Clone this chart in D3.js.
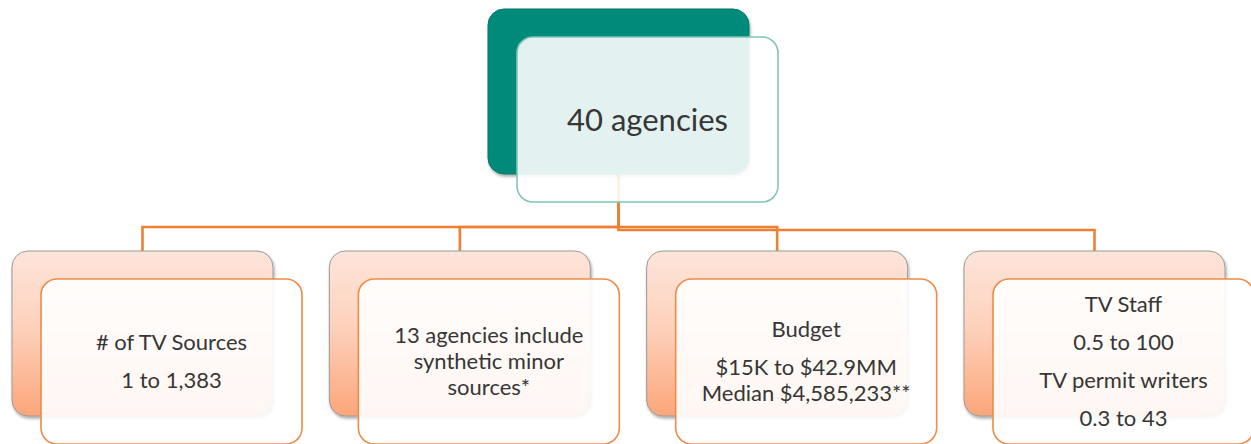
<html>
<head>
    <meta charset="utf-8">
    <title>Agencies overview</title>
    <script src="https://d3js.org/d3.v7.min.js" charset="utf-8"></script>
    <style>
        body { margin: 0; background: #fff; }
        text { font-family: Lato, "Open Sans", sans-serif; fill: #363636; }
    </style>
</head>
<body>
    <div id="chart"></div>
    <script>
        // data
        const rootParagraphs = [["40 agencies"]];
        const childKeys = ["sources", "synthetic", "budget", "staff"];
        const childParagraphs = [
            [["# of TV Sources"], ["1 to 1,383"]],
            [["13 agencies include", "synthetic minor", "sources*"]],
            [["Budget"], ["$15K to $42.9MM", "Median $4,585,233**"]],
            [["TV Staff"], ["0.5 to 100"], ["TV permit writers"], ["0.3 to 43"]]
        ];

        let width = 1251,
            height = 444,
            boxW = 261,
            boxH = 165,
            offX = 29,
            offY = 28,
            radius = 16,
            rootX = 618.5,
            rootY = 9,
            childY = 251,
            lineH = 26,
            paraGap = 12;

        const x = d3.scalePoint()
            .domain(childKeys)
            .range([142.5, 1094.5]);

        const svg = d3.select("#chart")
            .append("svg")
            .attr("width", width)
            .attr("height", height);

        const defs = svg.append("defs");

        const grad = defs.append("linearGradient")
            .attr("id", "peach")
            .attr("x1", 0).attr("y1", 0).attr("x2", 0).attr("y2", 1);
        grad.append("stop").attr("offset", "0%").attr("stop-color", "#fde5da");
        grad.append("stop").attr("offset", "45%").attr("stop-color", "#fdd2bd");
        grad.append("stop").attr("offset", "100%").attr("stop-color", "#fca67a");

        const shadow = defs.append("filter")
            .attr("id", "shadow")
            .attr("x", "-10%").attr("y", "-10%")
            .attr("width", "125%").attr("height", "125%");
        shadow.append("feDropShadow")
            .attr("dx", 1).attr("dy", 2)
            .attr("stdDeviation", 1.5)
            .attr("flood-color", "#000")
            .attr("flood-opacity", 0.35);

        // connectors (drawn first, root front box sits over them)
        const levels = [227, 227, 227, 230];
        svg.selectAll(".link")
            .data(childKeys)
            .enter()
            .append("path")
            .attr("class", "link")
            .attr("fill", "none")
            .attr("stroke", "#ef7f33")
            .attr("stroke-width", 2.6)
            .attr("d", (d, i) => `M${rootX},${rootY + boxH - 2} V${levels[i]} H${x(d)} V${childY}`);

        // root node
        svg.append("rect")
            .attr("x", rootX - boxW / 2)
            .attr("y", rootY)
            .attr("width", boxW)
            .attr("height", boxH)
            .attr("rx", radius)
            .attr("fill", "#008a7a")
            .attr("stroke", "#00796b")
            .attr("filter", "url(#shadow)");

        svg.append("rect")
            .attr("x", rootX - boxW / 2 + offX)
            .attr("y", rootY + offY)
            .attr("width", boxW)
            .attr("height", boxH)
            .attr("rx", radius)
            .attr("fill", "#ffffff")
            .attr("fill-opacity", 0.89)
            .attr("stroke", "#80c4ba")
            .attr("stroke-width", 1.6);

        const drawText = (paragraphs, cx, cy, size, capH) => {
            let offsets = [], pos = 0;
            paragraphs.forEach((p, pi) => {
                if (pi > 0) pos += lineH + paraGap;
                p.forEach((line, li) => {
                    if (li > 0) pos += lineH;
                    offsets.push({ text: line, dy: pos });
                });
            });
            let first = cy - pos / 2 + capH / 2;
            svg.append("g")
                .selectAll("text")
                .data(offsets)
                .enter()
                .append("text")
                .attr("x", cx)
                .attr("y", d => first + d.dy)
                .attr("text-anchor", "middle")
                .style("font-size", size + "px")
                .text(d => d.text);
        };

        drawText(rootParagraphs, rootX + offX, rootY + offY + boxH / 2, 31, 22);

        // child nodes
        const child = svg.selectAll(".child")
            .data(childKeys)
            .enter()
            .append("g")
            .attr("class", "child");

        child.append("rect")
            .attr("x", d => x(d) - boxW / 2)
            .attr("y", childY)
            .attr("width", boxW)
            .attr("height", boxH)
            .attr("rx", radius)
            .attr("fill", "url(#peach)")
            .attr("stroke", "#9a9a9a")
            .attr("stroke-width", 1)
            .attr("filter", "url(#shadow)");

        child.append("rect")
            .attr("x", d => x(d) - boxW / 2 + offX)
            .attr("y", childY + offY)
            .attr("width", boxW)
            .attr("height", boxH)
            .attr("rx", radius)
            .attr("fill", "#ffffff")
            .attr("fill-opacity", 0.9)
            .attr("stroke", "#f08a48")
            .attr("stroke-width", 1.6);

        childKeys.forEach((k, i) => {
            drawText(childParagraphs[i], x(k) + offX, childY + offY + boxH / 2, 22, 15);
        });
    </script>
</body>
</html>
